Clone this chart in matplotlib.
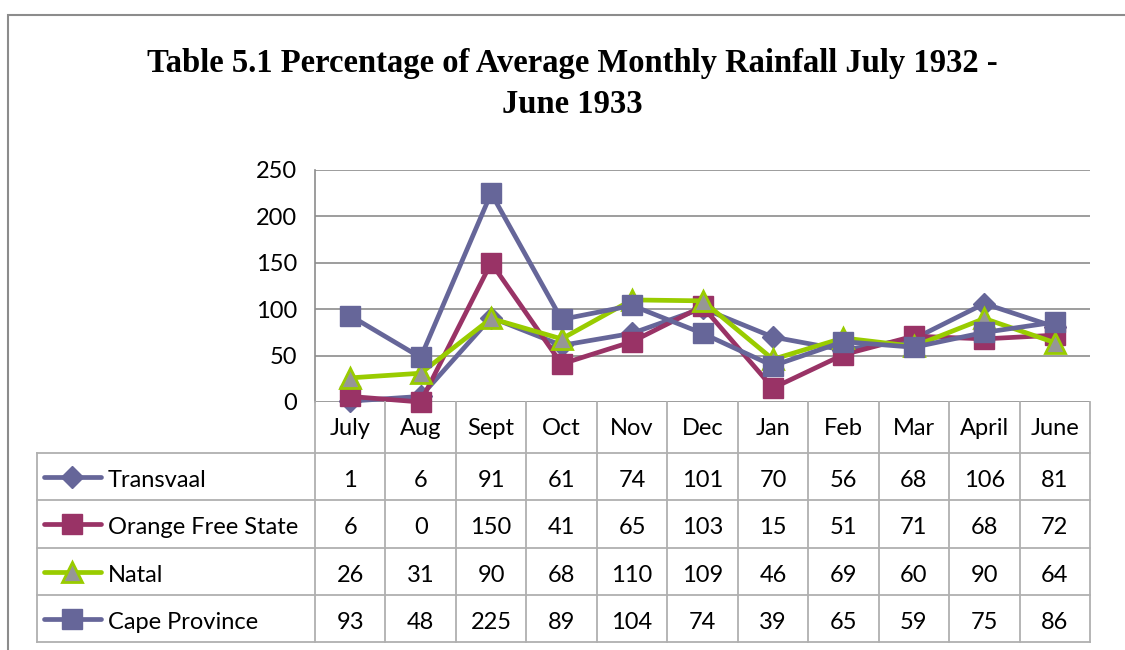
import matplotlib
matplotlib.use("Agg")
import matplotlib.pyplot as plt
from matplotlib.lines import Line2D
from matplotlib.patches import Rectangle
from matplotlib.transforms import blended_transform_factory

months = ["July", "Aug", "Sept", "Oct", "Nov", "Dec", "Jan", "Feb", "Mar", "April", "June"]
series_names = ["Transvaal", "Orange Free State", "Natal", "Cape Province"]
transvaal = [1, 6, 91, 61, 74, 101, 70, 56, 68, 106, 81]
orange_free_state = [6, 0, 150, 41, 65, 103, 15, 51, 71, 68, 72]
natal = [26, 31, 90, 68, 110, 109, 46, 69, 60, 90, 64]
cape_province = [93, 48, 225, 89, 104, 74, 39, 65, 59, 75, 86]
y_ticks = [0, 50, 100, 150, 200, 250]
title = "Table 5.1 Percentage of Average Monthly Rainfall July 1932 -\nJune 1933"

W, H = 1125, 650
fig = plt.figure(figsize=(W / 100, H / 100), dpi=100)
FONT = "Lato"
FS = 17
GRID = "#8c8c8c"
TBL = "#b0b0b0"

def fy(py):
    return 1 - py / H

def fx(px):
    return px / W

# outer frame (cut at right and bottom)
fig.patches.append(Rectangle((fx(8), fy(700)), fx(1200), fy(15) - fy(700),
                             transform=fig.transFigure, fill=False,
                             edgecolor="#8c8c8c", linewidth=1.5))

fig.text(fx(572), fy(84), title, ha="center", va="center", family="Liberation Serif",
         fontweight="bold", fontsize=23.5, linespacing=1.45)

L, R, T, B = 315, 1090, 170, 402
ax = fig.add_axes([fx(L), fy(B), fx(R - L), fy(T) - fy(B)])
x = list(range(len(months)))

styles = [
    dict(color="#666699", marker="D", markersize=11, markerfacecolor="#666699",
         markeredgecolor="#666699"),
    dict(color="#993366", marker="s", markersize=14, markerfacecolor="#993366",
         markeredgecolor="#993366"),
    dict(color="#99CC00", marker="^", markersize=15, markerfacecolor="#969696",
         markeredgecolor="#99CC00", markeredgewidth=2),
    dict(color="#666699", marker="s", markersize=14, markerfacecolor="#666699",
         markeredgecolor="#666699"),
]
data = [transvaal, orange_free_state, natal, cape_province]
for i, (vals, st) in enumerate(zip(data, styles)):
    ax.plot(x, vals, linewidth=3.4, zorder=3 + i, clip_on=False, **st)

ax.set_xlim(-0.5, len(months) - 0.5)
ax.set_ylim(0, 250)
ax.set_yticks(y_ticks)
ax.set_xticks([])
for t in y_ticks:
    ax.axhline(t, color=GRID, linewidth=1.2, zorder=1)
for s in ["top", "right", "bottom"]:
    ax.spines[s].set_visible(False)
ax.spines["left"].set_color(GRID)
ax.spines["left"].set_linewidth(1.2)
ax.tick_params(axis="y", length=0, pad=13, labelsize=FS)
for lab in ax.get_yticklabels():
    lab.set_family(FONT)

# data table
tr = blended_transform_factory(ax.transData, fig.transFigure)
rows_y = [453, 500, 548, 595, 642]
n = len(months)
for k in range(n + 1):
    xb = k - 0.5
    fig.add_artist(Line2D([xb, xb], [fy(B), fy(642)], transform=tr, color=TBL, linewidth=1.3))
for ry in rows_y:
    fig.add_artist(Line2D([fx(37), fx(R)], [fy(ry), fy(ry)], transform=fig.transFigure,
                          color=TBL, linewidth=1.3))
fig.add_artist(Line2D([fx(37), fx(37)], [fy(453), fy(642)], transform=fig.transFigure,
                      color=TBL, linewidth=1.3))
for k, m in enumerate(months):
    fig.text(k, fy((B + 453) / 2 + 1), m, transform=tr, ha="center", va="center",
             family=FONT, fontsize=FS)
for r, (name, vals, st) in enumerate(zip(series_names, data, styles)):
    cy = fy((rows_y[r] + rows_y[r + 1]) / 2)
    ty = fy((rows_y[r] + rows_y[r + 1]) / 2 + 4)
    st2 = dict(st)
    ms = st2.pop("markersize")
    fig.add_artist(Line2D([fx(44), fx(101)], [cy, cy], transform=fig.transFigure,
                          linewidth=3.4, solid_capstyle="round", **st2, markersize=ms,
                          markevery=[]))
    fig.add_artist(Line2D([fx(72)], [cy], transform=fig.transFigure, linestyle="none",
                          **st2, markersize=ms))
    fig.text(fx(108), ty, name, ha="left", va="center", family=FONT, fontsize=FS)
    for k, v in enumerate(vals):
        fig.text(k, ty, str(v), transform=tr, ha="center", va="center",
                 family=FONT, fontsize=FS)

fig.savefig("out.png", dpi=100)
